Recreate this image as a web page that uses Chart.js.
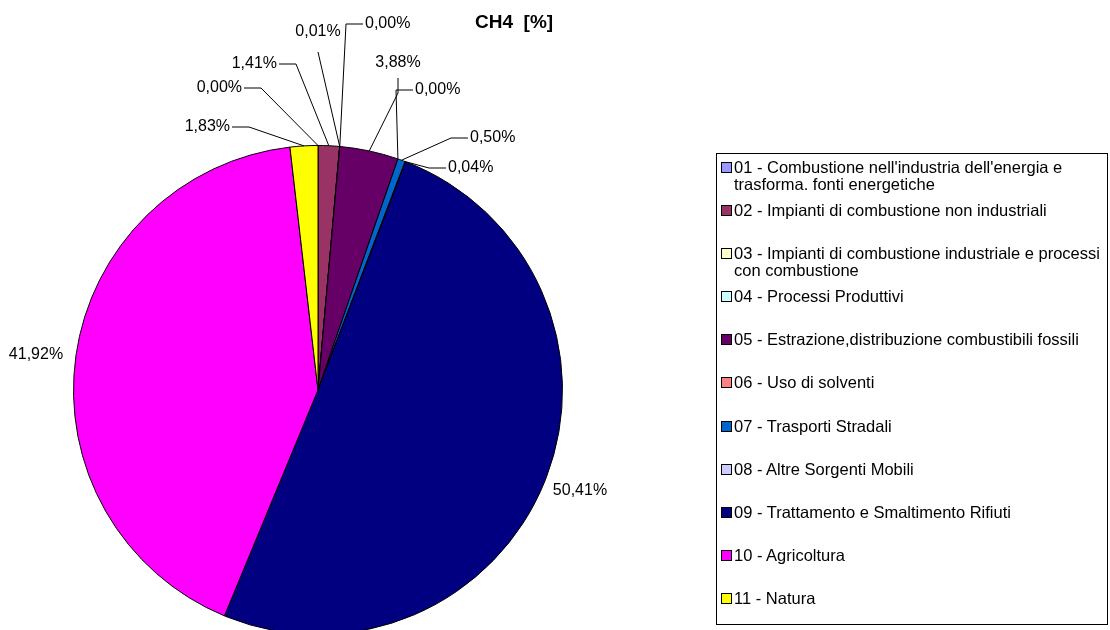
<!DOCTYPE html>
<html>
<head>
<meta charset="utf-8">
<script src="https://cdn.jsdelivr.net/npm/chart.js"></script>
<style>
body { margin: 0; width: 1110px; height: 630px; overflow: hidden; background: #fff; position: relative;
       font-family: "Liberation Sans", Arial, sans-serif; color: #000; }
#wrap { position: absolute; left: 0; top: 0; width: 1110px; height: 650px; }
#title { position: absolute; left: 475px; top: 11px; font-weight: bold; font-size: 19px; white-space: pre; }
#legend { position: absolute; left: 716px; top: 153px; width: 392px; height: 472px; border: 1px solid #000;
          box-sizing: border-box; padding-top: 5px; }
.item { position: relative; height: 43.1px; padding-left: 17px; padding-right: 3px; font-size: 16.5px; line-height: 17px; }
.box { position: absolute; left: 4px; top: 3px; width: 9px; height: 9px; border: 1px solid #000; }
</style>
</head>
<body>
<div id="wrap"><canvas id="pieChart" width="1110" height="650"></canvas></div>
<div id="title">CH4  [%]</div>
<div id="legend"></div>
<script>
var labels = [
    "01 - Combustione nell'industria dell'energia e trasforma. fonti energetiche",
    "02 - Impianti di combustione non industriali",
    "03 - Impianti di combustione industriale e processi con combustione",
    "04 - Processi Produttivi",
    "05 - Estrazione,distribuzione combustibili fossili",
    "06 - Uso di solventi",
    "07 - Trasporti Stradali",
    "08 - Altre Sorgenti Mobili",
    "09 - Trattamento e Smaltimento Rifiuti",
    "10 - Agricoltura",
    "11 - Natura"
];
var values = [0.00, 1.41, 0.01, 0.00, 3.88, 0.00, 0.50, 0.04, 50.41, 41.92, 1.83];
var colors = ['#9999FF', '#993366', '#FFFFCC', '#CCFFFF', '#660066', '#FF8080',
              '#0066CC', '#CCCCFF', '#000080', '#FF00FF', '#FFFF00'];

// where each percentage label sits, relative to the pie centre
var labelSpots = [
    { dx: -76, dy: -302, line: 'right' },
    { dx: -41, dy: -326, line: 'right' },
    { dx: 0, dy: -358, line: 'down', gap: 20, drop: 0 },
    { dx: 47, dy: -366, line: 'left' },
    { dx: 80, dy: -327, line: 'down', gap: 15, drop: 15 },
    { dx: 97, dy: -300, line: 'left' },
    { dx: 152, dy: -252, line: 'left' },
    { dx: 130, dy: -222, line: 'left' },
    { dx: 262, dy: 101, line: 'none' },
    { dx: -282, dy: -35, line: 'none' },
    { dx: -88, dy: -263, line: 'right' }
];

var leaderLabels = {
    id: 'leaderLabels',
    afterDatasetsDraw: function (chart) {
        var ctx = chart.ctx;
        var arcs = chart.getDatasetMeta(0).data;
        ctx.save();
        ctx.font = '16px "Liberation Sans", Arial, sans-serif';
        ctx.fillStyle = '#000';
        ctx.strokeStyle = '#000';
        ctx.lineWidth = 1;
        ctx.textBaseline = 'middle';
        arcs.forEach(function (arc, i) {
            var p = arc.getProps(['x', 'y', 'startAngle', 'endAngle', 'outerRadius'], true);
            var s = labelSpots[i];
            var mid = (p.startAngle + p.endAngle) / 2;
            var ax = p.x + Math.cos(mid) * p.outerRadius;
            var ay = p.y + Math.sin(mid) * p.outerRadius;
            var tx = p.x + s.dx, ty = p.y + s.dy;
            var text = values[i].toFixed(2).replace('.', ',') + '%';
            ctx.beginPath();
            if (s.line === 'right') {
                ctx.textAlign = 'right';
                ctx.moveTo(tx + 2, ty);
                ctx.lineTo(tx + 19, ty);
                ctx.lineTo(ax, ay);
            } else if (s.line === 'left') {
                ctx.textAlign = 'left';
                ctx.moveTo(tx - 2, ty);
                ctx.lineTo(tx - 19, ty);
                ctx.lineTo(ax, ay);
            } else if (s.line === 'down') {
                ctx.textAlign = 'center';
                ctx.moveTo(tx, ty + s.gap);
                ctx.lineTo(tx, ty + s.gap + s.drop);
                ctx.lineTo(ax, ay);
            } else {
                ctx.textAlign = 'center';
            }
            ctx.stroke();
            ctx.fillText(text, tx, ty);
        });
        ctx.restore();
    }
};

var pieCanvas = document.getElementById("pieChart").getContext("2d");
var pieChart = new Chart(pieCanvas, {
    type: 'pie',
    data: {
        labels: labels,
        datasets: [{
            data: values,
            backgroundColor: colors,
            borderColor: '#000',
            borderWidth: 1,
            hoverOffset: 0
        }]
    },
    options: {
        responsive: false,
        animation: false,
        layout: { padding: { left: 73, top: 145, right: 547, bottom: 15 } },
        plugins: {
            legend: { display: false },
            tooltip: { enabled: false }
        }
    },
    plugins: [leaderLabels]
});

var legend = document.getElementById("legend");
labels.forEach(function (name, i) {
    var item = document.createElement("div");
    item.className = "item";
    var box = document.createElement("span");
    box.className = "box";
    box.style.background = colors[i];
    item.appendChild(box);
    item.appendChild(document.createTextNode(name));
    legend.appendChild(item);
});
</script>
</body>
</html>
